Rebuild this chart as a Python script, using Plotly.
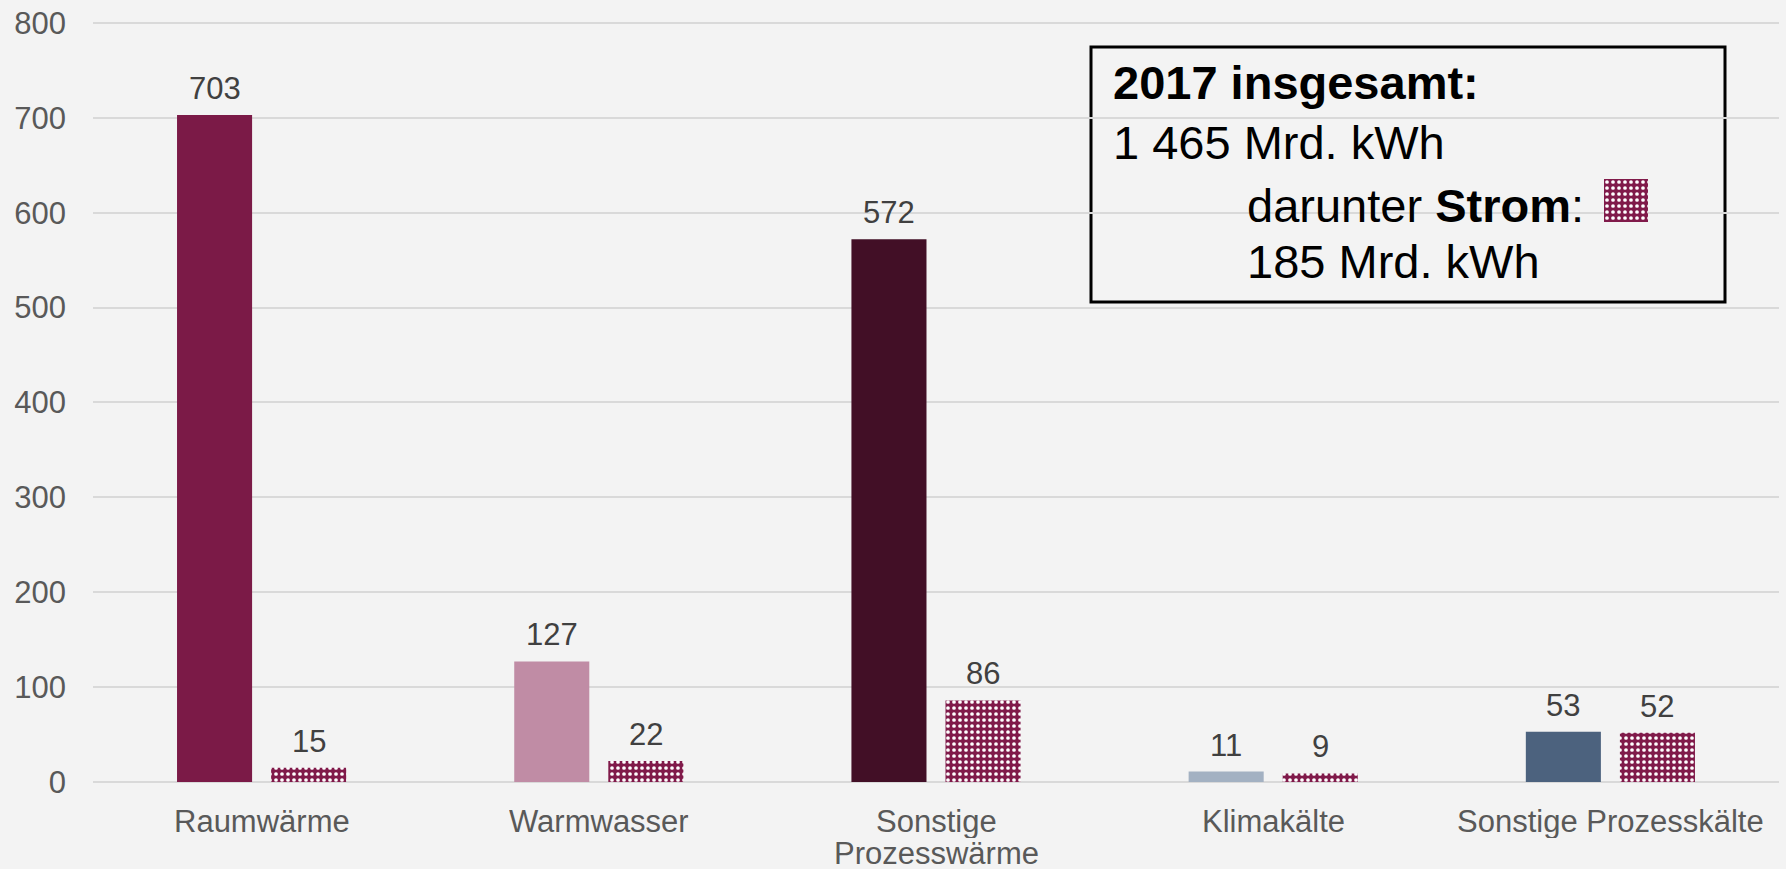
import plotly.graph_objects as go

# Endenergieverbrauch für Wärme- und Kälteanwendungen 2017 (Mrd. kWh)
kategorien = ["Raumwärme", "Warmwasser", "Sonstige<br>Prozesswärme", "Klimakälte", "Sonstige Prozesskälte"]
gesamt = [703, 127, 572, 11, 53]
strom = [15, 22, 86, 9, 52]
farben_gesamt = ["#7B1A47", "#C08CA5", "#420F26", "#A3B1C2", "#4C627E"]
strom_farbe = "#801A4A"
y_ticks = [0, 100, 200, 300, 400, 500, 600, 700, 800]

kasten_zeilen = [
    "<b>2017 insgesamt:</b>",
    "1 465 Mrd. kWh",
    "darunter <b>Strom</b>:",
    "185 Mrd. kWh",
]

FONT = "Liberation Sans, Arial, sans-serif"
BG = "#F3F3F3"
BAR_W = 0.2226
SHIFT = 0.1395

pos = list(range(len(kategorien)))
strom_muster = dict(shape=".", fgcolor="white", bgcolor=strom_farbe, size=6, solidity=0.3, fillmode="replace")

fig = go.Figure()
fig.add_trace(go.Bar(
    x=pos, y=gesamt, width=BAR_W, offset=-SHIFT - BAR_W / 2,
    marker=dict(color=farben_gesamt, line=dict(width=0)),
    name="insgesamt", showlegend=False, hoverinfo="y",
))
fig.add_trace(go.Bar(
    x=pos, y=strom, width=BAR_W, offset=SHIFT - BAR_W / 2,
    marker=dict(color=strom_farbe, pattern=strom_muster, line=dict(width=0)),
    name="Strom", showlegend=False, hoverinfo="y",
))

# swatch for "Strom" inside the info box, drawn on its own small axes
fig.add_trace(go.Bar(
    x=[0], y=[1], width=1, xaxis="x2", yaxis="y2",
    marker=dict(color=strom_farbe, pattern=strom_muster, line=dict(width=0)),
    showlegend=False, hoverinfo="skip",
))

annotations = []
for i, (g, s) in enumerate(zip(gesamt, strom)):
    for xv, val in ((i - SHIFT, g), (i + SHIFT, s)):
        annotations.append(dict(
            x=xv, y=val, xref="x", yref="y", text=str(val), showarrow=False,
            yanchor="bottom", yshift=7,
            font=dict(family=FONT, size=31, color="#404040"),
        ))

# category labels below the axis; wrapped names get a tight line spacing,
# so each line gets its own compact text box
for i, name in enumerate(kategorien):
    zeilen = name.split("<br>")
    for k, zeile in enumerate(zeilen):
        box_h = 34 if k < len(zeilen) - 1 else 26
        if len(zeilen) == 1:
            box_h = 34
        annotations.append(dict(
            x=i, y=0, xref="x", yref="paper", text=zeile, showarrow=False,
            xanchor="center", yanchor="middle", valign="middle",
            yshift=-39 - 32 * k, borderpad=0, height=box_h,
            font=dict(family=FONT, size=31, color="#595959"),
        ))

# plot area in pixels
L, T, H = 93, 21, 761
W = 1686
def px_x(p):
    return (p - L) / W
def px_y(p):
    return (T + H - p) / H

zeilen_x = [1111, 1111, 1245, 1245]
zeilen_y = [82.5, 142, 205, 261.5]
for txt, xx, yy in zip(kasten_zeilen, zeilen_x, zeilen_y):
    annotations.append(dict(
        x=px_x(xx), y=px_y(yy), xref="paper", yref="paper", text=txt,
        showarrow=False, xanchor="left", yanchor="middle", align="left",
        font=dict(family=FONT, size=47, color="#000000"),
    ))

fig.update_layout(
    width=1786, height=869,
    margin=dict(l=L, r=1786 - L - W, t=T, b=869 - T - H, autoexpand=False),
    paper_bgcolor=BG, plot_bgcolor=BG,
    barmode="overlay",
    font=dict(family=FONT, size=31, color="#595959"),
    xaxis=dict(
        range=[-0.5, 4.5], tickmode="array", tickvals=pos, showticklabels=False,
        showgrid=False, zeroline=False, showline=False, ticks="", automargin=False,
    ),
    yaxis=dict(
        range=[0, 802], tickmode="array", tickvals=y_ticks,
        showgrid=True, gridcolor="#D9D9D9", gridwidth=1.5,
        zeroline=True, zerolinecolor="#D9D9D9", zerolinewidth=2,
        showline=False, ticks="", ticklabelstandoff=26, automargin=False,
        tickfont=dict(family=FONT, size=31, color="#595959"),
    ),
    xaxis2=dict(domain=[px_x(1604), px_x(1648)], range=[-0.5, 0.5], anchor="y2",
                visible=False, fixedrange=True),
    yaxis2=dict(domain=[px_y(222), px_y(179)], range=[0, 1], anchor="x2",
                visible=False, fixedrange=True),
    shapes=[dict(
        type="rect", xref="paper", yref="paper",
        x0=px_x(1091), x1=px_x(1725), y0=px_y(302), y1=px_y(47),
        line=dict(color="#000000", width=3), fillcolor=BG, layer="below",
    )],
    annotations=annotations,
)

fig.write_html("out.html")
